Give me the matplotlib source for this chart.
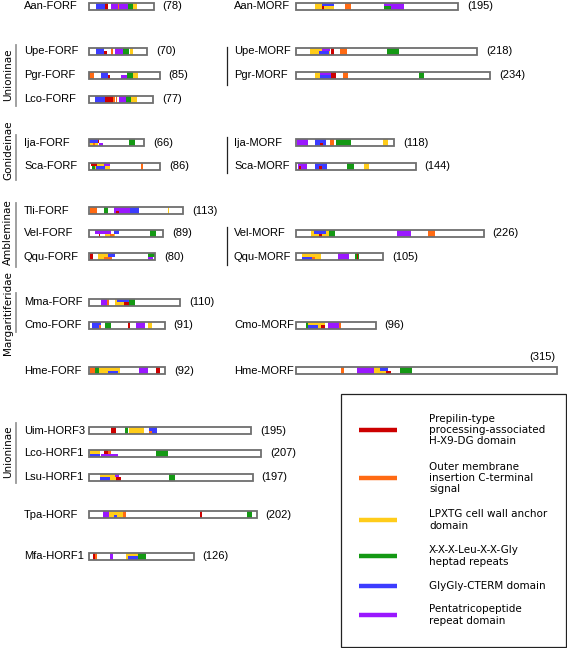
import matplotlib
matplotlib.use("Agg")
import matplotlib.pyplot as plt
from matplotlib.patches import Rectangle

plt.rcParams['font.family'] = ['DejaVu Sans']

# ---------------- data ----------------
proteins = ["Aan-FORF", "Upe-FORF", "Pgr-FORF", "Lco-FORF",
            "Aan-MORF", "Upe-MORF", "Pgr-MORF",
            "Ija-FORF", "Sca-FORF", "Ija-MORF", "Sca-MORF",
            "Tli-FORF", "Vel-FORF", "Qqu-FORF", "Vel-MORF", "Qqu-MORF",
            "Mma-FORF", "Cmo-FORF", "Cmo-MORF",
            "Hme-FORF", "Hme-MORF",
            "Uim-HORF3", "Lco-HORF1", "Lsu-HORF1", "Tpa-HORF", "Mfa-HORF1"]
lengths = [78, 70, 85, 77,
           195, 218, 234,
           66, 86, 118, 144,
           113, 89, 80, 226, 105,
           110, 91, 96,
           92, 315,
           195, 207, 197, 202, 126]

# domains: (start residue, end residue, domain type, band: full/top/bot)
domains = {
    "Aan-FORF": [(8.5, 19.3, "gg", "full"), (19.3, 22.4, "pp", "full"), (26, 34.4, "ppr", "full"),
                 (34.4, 36, "om", "full"), (36, 47, "ppr", "full"), (47, 53, "hep", "full"),
                 (53, 58, "lp", "full")],
    "Upe-FORF": [(9, 17.6, "gg", "full"), (17.6, 21.6, "pp", "bot"), (27, 29, "om", "full"),
                 (31, 41, "ppr", "full"), (41, 47.6, "hep", "full"), (48.8, 53.6, "lp", "full")],
    "Pgr-FORF": [(0, 5.7, "om", "full"), (14, 22.4, "gg", "full"), (22.4, 25.8, "pp", "bot"),
                 (39, 46, "ppr", "bot"), (46, 52.5, "hep", "full"), (52.5, 58.6, "lp", "full")],
    "Lco-FORF": [(7.6, 19, "gg", "full"), (19, 29.3, "pp", "full"), (29.3, 31.5, "om", "full"),
                 (32, 33.5, "om", "full"), (36, 44, "ppr", "full"), (44, 51, "hep", "full"),
                 (51, 58, "lp", "full")],
    "Aan-MORF": [(22.4, 45.7, "lp", "full"), (31.4, 45.7, "gg", "top"), (31.4, 34.3, "pp", "bot"),
                 (58.8, 66.1, "om", "full"), (106, 130.6, "ppr", "full"), (106, 114, "hep", "bot")],
    "Upe-MORF": [(17.3, 41.4, "lp", "full"), (31.4, 41.4, "ppr", "top"), (27.3, 40.2, "gg", "bot"),
                 (42.2, 46.2, "pp", "full"), (53.5, 61, "om", "full"), (109.3, 123.8, "hep", "full")],
    "Pgr-MORF": [(22.4, 42, "lp", "full"), (29.3, 42.7, "ppr", "top"), (28.5, 42, "gg", "bot"),
                 (42.7, 48, "pp", "full"), (56.2, 62.3, "om", "full"), (148.6, 154, "hep", "full")],
    "Ija-FORF": [(0.7, 10.5, "lp", "full"), (0, 10.5, "gg", "top"), (4.6, 7.2, "om", "bot"),
                 (10.5, 11.8, "pp", "top"), (11.5, 16.4, "ppr", "bot"), (47.6, 55, "hep", "full")],
    "Sca-FORF": [(7, 25.3, "lp", "full"), (2.9, 9.8, "pp", "top"), (18, 25.3, "ppr", "top"),
                 (4, 7.3, "hep", "bot"), (8, 19, "gg", "bot"), (63, 65, "om", "full")],
    "Ija-MORF": [(0.8, 15, "ppr", "full"), (22.4, 35.8, "gg", "full"), (28.5, 32.6, "pp", "bot"),
                 (40.7, 45.6, "om", "full"), (48, 66, "hep", "full"), (105, 110.7, "lp", "full")],
    "Sca-MORF": [(2.8, 13, "ppr", "full"), (4, 5.7, "pp", "bot"), (22.3, 37.3, "gg", "full"),
                 (27.6, 30.8, "pp", "bot"), (62, 70, "hep", "full"), (82.4, 88.5, "lp", "full")],
    "Tli-FORF": [(1.6, 9.8, "om", "full"), (17.6, 23, "hep", "full"), (30, 49.7, "ppr", "full"),
                 (32.8, 36, "pp", "bot"), (49.7, 60.6, "gg", "full"), (94.6, 95.8, "lp", "full")],
    "Vel-FORF": [(7.5, 26.5, "ppr", "top"), (11.9, 13, "pp", "bot"), (19.8, 31.7, "lp", "bot"),
                 (25.7, 30.5, "om", "bot"), (30.5, 36.4, "gg", "top"), (72.9, 80.8, "hep", "full")],
    "Qqu-FORF": [(0.9, 5.4, "pp", "full"), (10.8, 22.6, "lp", "full"), (18, 28, "om", "bot"),
                 (22.6, 31.6, "gg", "top"), (71, 80, "hep", "top"), (71, 77.7, "ppr", "bot")],
    "Vel-MORF": [(18, 40, "lp", "full"), (22, 36, "gg", "top"), (27.2, 31.2, "pp", "bot"),
                 (40, 47.2, "hep", "full"), (122, 138.8, "ppr", "full"), (159, 167, "om", "full")],
    "Qqu-MORF": [(7.4, 30, "lp", "full"), (7.4, 19, "gg", "bot"), (19, 23, "om", "bot"),
                 (50.6, 64.3, "ppr", "full"), (71.3, 75.8, "hep", "full"), (73.3, 74.6, "pp", "full")],
    "Mma-FORF": [(14.8, 21.7, "ppr", "full"), (21.7, 23.6, "om", "full"), (31.2, 48.4, "lp", "full"),
                 (34.3, 47.6, "gg", "top"), (41.9, 48.4, "pp", "bot"), (48.4, 55.2, "hep", "full")],
    "Cmo-FORF": [(3.9, 14.5, "gg", "full"), (11.8, 14.1, "om", "bot"), (18.8, 26.7, "hep", "full"),
                 (46.7, 49.8, "pp", "full"), (56.8, 67.4, "ppr", "full"), (71.3, 76, "lp", "full")],
    "Cmo-MORF": [(11.9, 14.9, "hep", "full"), (14.9, 34.6, "lp", "full"), (14.9, 26, "gg", "bot"),
                 (29.8, 34.6, "pp", "bot"), (38, 51.3, "ppr", "full"), (51.3, 54.3, "om", "full")],
    "Hme-FORF": [(0.8, 7.5, "om", "full"), (7.5, 12.3, "hep", "full"), (12.3, 37.3, "lp", "full"),
                 (22.6, 34.5, "gg", "bot"), (60.3, 70.6, "ppr", "full"), (81, 86, "pp", "full")],
    "Hme-MORF": [(54, 58, "om", "full"), (73, 94.2, "ppr", "full"), (94.2, 109.6, "lp", "full"),
                 (101.5, 110.4, "gg", "top"), (108.8, 114.5, "pp", "bot"), (125.8, 140, "hep", "full")],
    "Uim-HORF3": [(26, 32, "pp", "full"), (42.8, 46.8, "hep", "full"), (48, 66, "lp", "full"),
                  (72.8, 82, "gg", "full"), (72.8, 76, "om", "bot")],
    "Lco-HORF1": [(0.8, 13.8, "lp", "top"), (0.8, 13, "gg", "bot"), (18.3, 26.4, "pp", "top"),
                  (23, 26.4, "om", "top"), (15, 34.5, "ppr", "bot"), (81.2, 95.4, "hep", "full")],
    "Lsu-HORF1": [(13.8, 32.4, "lp", "full"), (13.8, 25, "gg", "bot"), (31, 36.4, "ppr", "top"),
                  (33, 38, "pp", "bot"), (96.7, 104, "hep", "full")],
    "Tpa-HORF": [(17.4, 24.6, "ppr", "full"), (24.6, 43.6, "lp", "full"), (40.4, 45, "om", "full"),
                 (30.5, 33.3, "gg", "bot"), (133.5, 136, "pp", "full"), (190.9, 196.8, "hep", "full")],
    "Mfa-HORF1": [(4.8, 9.7, "pp", "full"), (6.9, 9.7, "om", "full"), (25, 29, "ppr", "full"),
                  (44.4, 58.6, "lp", "full"), (47.3, 58.6, "gg", "bot"), (58.6, 68.3, "hep", "full")],
}

domain_types = ["pp", "om", "lp", "hep", "gg", "ppr"]
domain_names = ["Prepilin-type\nprocessing-associated\nH-X9-DG domain",
                "Outer membrane\ninsertion C-terminal\nsignal",
                "LPXTG cell wall anchor\ndomain",
                "X-X-X-Leu-X-X-Gly\nheptad repeats",
                "GlyGly-CTERM domain",
                "Pentatricopeptide\nrepeat domain"]

groups = ["Unioninae", "Gonideinae", "Ambleminae", "Margaritiferidae", "Unioninae"]

# ---------------- layout ----------------
colors = {"pp": "#cc0000", "om": "#ff6a13", "lp": "#ffcc1a",
          "hep": "#149914", "gg": "#3c3cff", "ppr": "#9a18ff"}

S = 0.83  # pixels per residue
W, H = 567, 648


def px(p):
    return p / S


LEFT = (24, 89)    # label x, bar start x (pixels)
RIGHT = (234, 296)
row_pos = {
    "Aan-FORF": (LEFT, 6), "Upe-FORF": (LEFT, 51), "Pgr-FORF": (LEFT, 75), "Lco-FORF": (LEFT, 99),
    "Aan-MORF": (RIGHT, 6), "Upe-MORF": (RIGHT, 51), "Pgr-MORF": (RIGHT, 75),
    "Ija-FORF": (LEFT, 142.5), "Sca-FORF": (LEFT, 166),
    "Ija-MORF": (RIGHT, 142.5), "Sca-MORF": (RIGHT, 166),
    "Tli-FORF": (LEFT, 210.5), "Vel-FORF": (LEFT, 233.5), "Qqu-FORF": (LEFT, 256.5),
    "Vel-MORF": (RIGHT, 233.5), "Qqu-MORF": (RIGHT, 256.5),
    "Mma-FORF": (LEFT, 302), "Cmo-FORF": (LEFT, 325), "Cmo-MORF": (RIGHT, 325),
    "Hme-FORF": (LEFT, 370.5), "Hme-MORF": (RIGHT, 370.5),
    "Uim-HORF3": (LEFT, 430.5), "Lco-HORF1": (LEFT, 453.5), "Lsu-HORF1": (LEFT, 477),
    "Tpa-HORF": (LEFT, 514.5), "Mfa-HORF1": (LEFT, 556),
}
BAR_H = 7.0
FS = 7.5
LAB_FONT = dict(family=["Liberation Sans", "DejaVu Sans"], fontsize=8)

fig = plt.figure(figsize=(W / 100, H / 100), dpi=100)
ax = fig.add_axes([0, 0, 1, 1])
ax.set_xlim(0, px(W))
ax.set_ylim(H, 0)
ax.axis("off")

for name, length in zip(proteins, lengths):
    (lab_x, bar_x), yc = row_pos[name]
    x0 = px(bar_x)
    top = yc - BAR_H / 2
    ax.add_patch(Rectangle((x0, top), length, BAR_H, facecolor="white",
                           edgecolor="none", zorder=1))
    for (s, e, t, band) in domains[name]:
        if band == "full":
            y, h = top, BAR_H
        elif band == "top":
            y, h = top, BAR_H / 2
        else:
            y, h = yc, BAR_H / 2
        ax.add_patch(Rectangle((x0 + s, y), e - s, h, facecolor=colors[t],
                               edgecolor="none", zorder=2))
    ax.add_patch(Rectangle((x0, top), length, BAR_H, fill=False,
                           edgecolor="#6e6e6e", lw=1.3, zorder=3))
    ax.text(px(lab_x), yc, name, ha="left", va="center", **LAB_FONT)
    if name == "Hme-MORF":
        ax.annotate(f"({length})", xy=(x0 + length, yc), xytext=(-2, 14),
                    textcoords="offset pixels", ha="right", va="center", **LAB_FONT)
    else:
        ax.annotate(f"({length})", xy=(x0 + length, yc), xytext=(9, 0),
                    textcoords="offset pixels", ha="left", va="center", **LAB_FONT)

# group labels and brackets
group_text_y = [75, 150, 232, 313, 452]
group_lines_left = [(45, 106), (135, 180), (203, 267), (293, 332), (423, 483)]
for g, ty, (y1, y2) in zip(groups, group_text_y, group_lines_left):
    ax.text(px(8), ty, g, rotation=90, fontsize=FS, ha="center", va="center")
    ax.plot([px(16), px(16)], [y1, y2], color="#999999", lw=1.3)
for (y1, y2) in [(47, 85), (137, 173), (227, 265)]:
    ax.plot([px(227), px(227)], [y1, y2], color="#222222", lw=0.9)

# legend
ax.add_patch(Rectangle((px(341), 394), px(566) - px(341), 252.5, fill=False,
                       edgecolor="#222222", lw=0.9, zorder=3))
leg_y = [430, 478, 520, 556, 586, 615]
for t, txt, ly in zip(domain_types, domain_names, leg_y):
    ax.plot([px(359), px(397)], [ly, ly], color=colors[t], lw=3.2, solid_capstyle="butt")
    ax.text(px(429), ly, txt, fontsize=FS, ha="left", va="center", linespacing=1.15)

fig.savefig("out.png", dpi=100)
